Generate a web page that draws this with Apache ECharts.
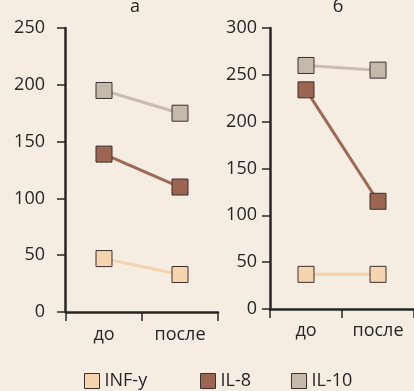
<!DOCTYPE html>
<html><head><meta charset="utf-8">
<script src="https://cdn.jsdelivr.net/npm/echarts@6/dist/echarts.min.js"></script>
<style>html,body{margin:0;padding:0;background:#f5ece2;}#c{width:414px;height:391px;}</style>
</head><body><div id="c"></div>
<script>
const categories = ['до', 'после'];
const panelTitles = ['а', 'б'];
const seriesNames = ['INF-y', 'IL-8', 'IL-10'];
// panel а
const aINF = [47, 33];
const aIL8 = [139, 110];
const aIL10 = [195, 175];
// panel б
const bINF = [37, 37];
const bIL8 = [234, 115];
const bIL10 = [260, 255];
const yMaxA = 250, yMaxB = 300, yStep = 50;

const fill = {'INF-y':'#f6d4ae','IL-8':'#9b6551','IL-10':'#c5b9ab'};
const lineC = {'INF-y':'#f5d2ac','IL-8':'#9e6a53','IL-10':'#c9bdb0'};
const FONT = 'Open Sans';
const dark = '#262626';

function mk(name, data, idx){
  return {name:name, type:'line', xAxisIndex:idx, yAxisIndex:idx, data:data,
    symbol:'rect', symbolSize:16,
    lineStyle:{color:lineC[name], width:3},
    itemStyle:{color:fill[name], borderColor:'#3a3030', borderWidth:1},
    emphasis:{disabled:true}};
}
function xa(idx, margin){
  return {type:'category', gridIndex:idx, data:categories, boundaryGap:true,
    axisLine:{lineStyle:{color:dark, width:2.5}},
    axisTick:{show:true, length:9, lineStyle:{color:dark, width:1.5}},
    axisLabel:{color:dark, fontSize:18, fontFamily:FONT, margin:margin}};
}
function ya(idx, max, margin, offset){
  return {type:'value', gridIndex:idx, min:0, max:max, interval:yStep, offset:offset,
    splitLine:{show:false},
    axisLine:{show:true, lineStyle:{color:dark, width:2.5}},
    axisTick:{show:true, length:8, lineStyle:{color:dark, width:1.5}},
    axisLabel:{color:dark, fontSize:18, fontFamily:FONT, margin:margin}};
}
function lg(name, left){
  return {data:[name], left:left, top:367, icon:'rect', itemWidth:15, itemHeight:15, itemGap:10,
    itemStyle:{borderColor:'#3a3030', borderWidth:1},
    textStyle:{color:dark, fontSize:18, fontFamily:FONT}};
}
const chart = echarts.init(document.getElementById('c'));
chart.setOption({
  backgroundColor:'#f5ece2',
  animation:false,
  title:[
    {text:panelTitles[0], left:130, top:-7, textAlign:'center', textStyle:{color:dark, fontSize:18, fontWeight:'normal', fontFamily:FONT}},
    {text:panelTitles[1], left:333, top:-7, textAlign:'center', textStyle:{color:dark, fontSize:18, fontWeight:'normal', fontFamily:FONT}}
  ],
  grid:[
    {left:66, top:28, width:152, bottom:79},
    {left:270, top:28, right:0, bottom:82}
  ],
  xAxis:[xa(0, 14), xa(1, 13)],
  yAxis:[ya(0, yMaxA, 20, 1), ya(1, yMaxB, 13, 0)],
  legend:[lg(seriesNames[0], 79), lg(seriesNames[1], 195), lg(seriesNames[2], 286)],
  series:[
    mk('INF-y', aINF, 0), mk('IL-8', aIL8, 0), mk('IL-10', aIL10, 0),
    mk('INF-y', bINF, 1), mk('IL-8', bIL8, 1), mk('IL-10', bIL10, 1)
  ]
});
</script></body></html>
